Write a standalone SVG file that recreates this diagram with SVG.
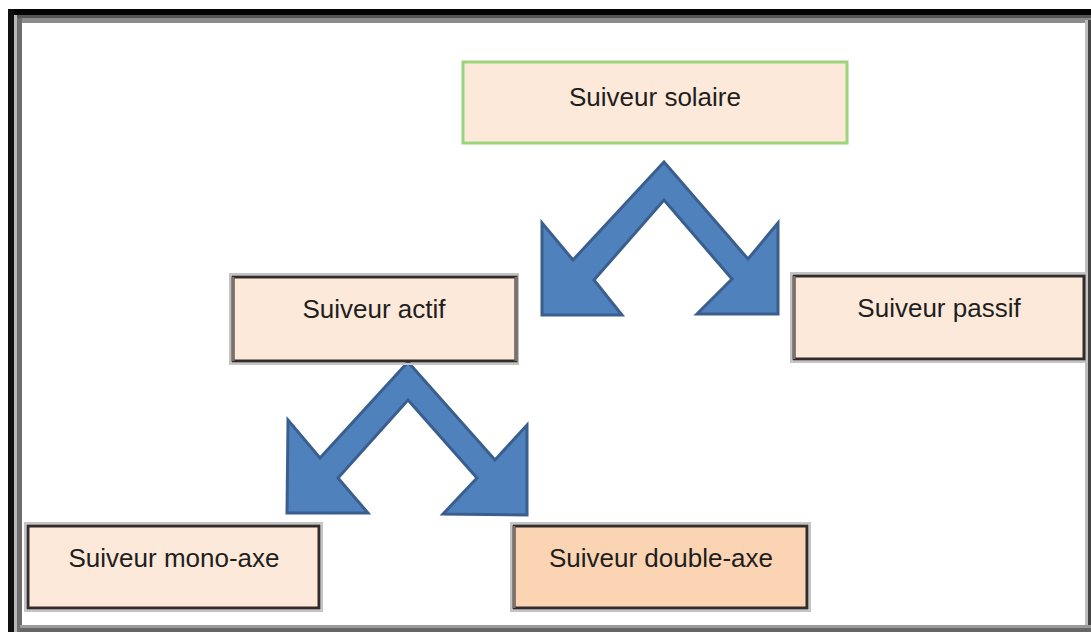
<svg xmlns="http://www.w3.org/2000/svg" width="1091" height="632" viewBox="0 0 1091 632">
  <style>
    .lbl { font-family: "Liberation Sans", Arial, sans-serif; font-size: 26px; fill: #1e1e1e; text-anchor: middle; }
    .box { fill: #FDE9D9; stroke: #332c2a; stroke-width: 3; }
    .halo { fill: none; stroke: #c4c4c4; stroke-width: 2; }
    .side { stroke: #7a716d; stroke-width: 3; }
    .arrow { fill: #4F81BD; stroke: #3A5F8F; stroke-width: 3; stroke-linejoin: miter; }
  </style>
  <rect x="0" y="0" width="1091" height="632" fill="#ffffff"/>
  <g id="frame">
    <rect x="8" y="9" width="1083" height="6" fill="#050505"/>
    <rect x="8" y="9" width="6" height="623" fill="#101010"/>
    <rect x="14" y="15" width="1077" height="3" fill="#555555"/>
    <rect x="14" y="18" width="1077" height="5" fill="#8c8c8c"/>
    <rect x="14" y="15" width="3" height="617" fill="#b8b8b8"/>
    <rect x="17" y="18" width="5" height="614" fill="#6e6e6e"/>
    <rect x="1085" y="20" width="3" height="612" fill="#bdbdbd"/>
    <rect x="1088" y="20" width="3" height="612" fill="#444444"/>
    <rect x="20" y="625" width="1071" height="3" fill="#9a9a9a"/>
    <rect x="20" y="628" width="1071" height="4" fill="#666666"/>
  </g>
  <g id="connectors">
    <polygon class="arrow" points="664,162 748,259 778,223 778,314 697,314 732,279 664,200 594,280 622,315 542,315 542,223 573,260"/>
    <polygon class="arrow" points="408,362 495,460 527,425 527,515 443,514 477,478 408,400 338,478 368,513 287,513 288,420 320,458"/>
  </g>
  <g id="node-solaire">
    <rect x="463" y="62" width="384" height="81" fill="#FDE9D9" stroke="#9BD47A" stroke-width="3"/>
    <text class="lbl" x="655" y="106">Suiveur solaire</text>
  </g>
  <g id="node-actif">
    <rect class="halo" x="230" y="274" width="288" height="90"/>
    <rect class="box" x="233" y="277" width="283" height="84"/>
    <line class="side" x1="233" y1="277" x2="233" y2="361"/>
    <line class="side" x1="516" y1="277" x2="516" y2="361"/>
    <text class="lbl" x="374" y="318">Suiveur actif</text>
  </g>
  <g id="node-passif">
    <rect class="halo" x="791" y="273" width="296" height="89"/>
    <rect class="box" x="794" y="276" width="290" height="83"/>
    <line class="side" x1="794" y1="276" x2="794" y2="359"/>
    <text class="lbl" x="939" y="317">Suiveur passif</text>
  </g>
  <g id="node-mono">
    <rect class="halo" x="25" y="523" width="297" height="88"/>
    <rect class="box" x="28" y="526" width="291" height="82"/>
    <text class="lbl" x="174" y="567">Suiveur mono-axe</text>
  </g>
  <g id="node-double">
    <rect class="halo" x="511" y="523" width="299" height="88"/>
    <rect x="514" y="526" width="293" height="82" fill="#FBD4B4" stroke="#332c2a" stroke-width="3"/>
    <line class="side" x1="514" y1="526" x2="514" y2="608"/>
    <text class="lbl" x="661" y="567">Suiveur double-axe</text>
  </g>
</svg>
